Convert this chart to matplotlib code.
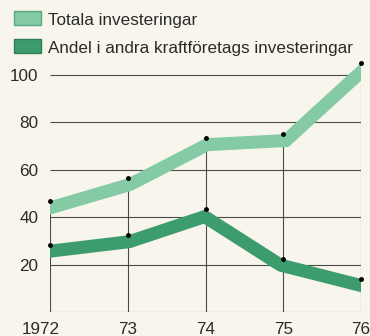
import numpy as np
import matplotlib.pyplot as plt
from matplotlib.patches import Rectangle

plt.rcParams['font.family'] = ['Liberation Sans', 'DejaVu Sans']
plt.rcParams['font.size'] = 12.3

years = [1972, 1973, 1974, 1975, 1976]
year_labels = ['1972', '73', '74', '75', '76']
totala = [46.8, 56.4, 73.3, 75.0, 104.9]
andel = [28.5, 32.4, 43.3, 22.4, 14.1]
yticks = [20, 40, 60, 80, 100]

bg = '#f8f6ec'
light = '#84caa4'
dark = '#3d9c6d'
grid = '#4a4a4a'
W, H = 370, 336


def band(ax, x, y, width_px, color):
    # thick ribbon hanging below the data line, constant perpendicular width
    pts = ax.transData.transform(np.column_stack([x, y]))
    d = np.diff(pts, axis=0)
    d /= np.linalg.norm(d, axis=1)[:, None]
    n = np.column_stack([d[:, 1], -d[:, 0]])
    low = np.empty_like(pts)
    low[0] = pts[0] + [0, -width_px / d[0, 0]]
    low[-1] = pts[-1] + [0, -width_px / d[-1, 0]]
    for i in range(1, len(pts) - 1):
        m = (n[i - 1] + n[i]) / (1 + n[i - 1] @ n[i])
        low[i] = pts[i] + m * width_px
    poly = ax.transData.inverted().transform(np.vstack([pts, low[::-1]]))
    ax.fill(poly[:, 0], poly[:, 1], color=color, lw=0, zorder=2)


fig = plt.figure(figsize=(W / 100, H / 100), dpi=100, facecolor=bg)
ax = fig.add_axes([50 / W, (H - 312.3) / H, 311 / W, 110 * 2.375 / H])
ax.set_facecolor(bg)
ax.set_xlim(1972, 1976)
ax.set_ylim(0, 110)
for s in ax.spines.values():
    s.set_visible(False)

ax.hlines([0] + yticks, years[0], years[-1], color=grid, lw=0.8, zorder=1)
ax.vlines(years, 0, totala, color=grid, lw=0.8, zorder=1)

band(ax, years, totala, 13, light)
band(ax, years, andel, 13, dark)

ax.plot(years, totala, 'o', color='black', ms=2.5, zorder=3, clip_on=False)
ax.plot(years, andel, 'o', color='black', ms=2.5, zorder=3, clip_on=False)

ax.set_yticks(yticks)
ax.set_yticklabels([str(v) for v in yticks], color='#2a2a2a')
ax.tick_params(axis='y', length=0, pad=8.4)
ax.set_xticks([])

shift = [-0.12, 0, 0, 0, 0]
for yr, lab, dx in zip(years, year_labels, shift):
    ax.text(yr + dx, -9.3, lab, ha='center', va='baseline', color='#2a2a2a',
            clip_on=False)

# legend
legend_items = [('Totala investeringar', light, '#5aa882'),
                ('Andel i andra kraftföretags investeringar', dark, '#2f7f58')]
for i, (lab, fc, ec) in enumerate(legend_items):
    top = 11 + 28 * i
    fig.add_artist(Rectangle((14 / W, 1 - (top + 14) / H), 27 / W, 14 / H,
                             transform=fig.transFigure, facecolor=fc,
                             edgecolor=ec, lw=1))
    fig.text(48 / W, 1 - (top + 14) / H, lab, ha='left', va='baseline',
             color='#2a2a2a')

fig.savefig('out.png', dpi=100, facecolor=bg)
